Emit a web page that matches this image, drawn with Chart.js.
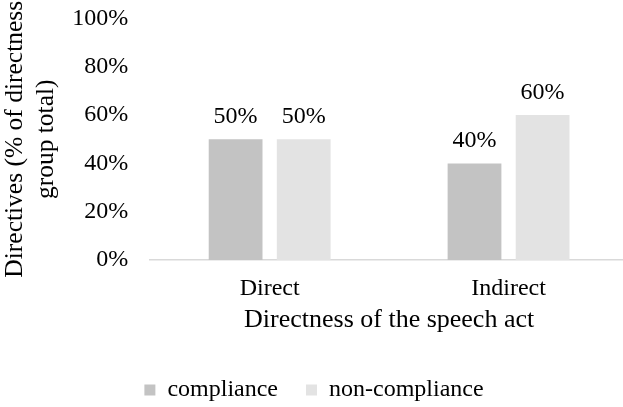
<!DOCTYPE html>
<html lang="en">
<head>
    <meta charset="UTF-8">
    <title>Directness of the speech act</title>
    <script src="https://cdn.jsdelivr.net/npm/chart.js"></script>
    <style>
        html, body { margin: 0; padding: 0; overflow: hidden; background: #fff; }
        #wrap { width: 628px; height: 407px; }
    </style>
</head>
<body>
    <div id="wrap"><canvas id="directChart"></canvas></div>

    <script>
        // data
        var categories = ['Direct', 'Indirect'];
        var compliance = [50, 40];
        var nonCompliance = [50, 60];
        var yTicks = [0, 20, 40, 60, 80, 100];

        var serif = "'Liberation Serif', 'Times New Roman', serif";

        // draws the % value above every bar
        var valueLabels = {
            id: 'valueLabels',
            afterDatasetsDraw: function(chart) {
                var ctx = chart.ctx;
                ctx.save();
                ctx.font = '24px ' + serif;
                ctx.fillStyle = '#000';
                ctx.textAlign = 'center';
                ctx.textBaseline = 'alphabetic';
                chart.data.datasets.forEach(function(ds, i) {
                    chart.getDatasetMeta(i).data.forEach(function(bar, j) {
                        ctx.fillText(ds.data[j] + '%', bar.x, bar.y - 16);
                    });
                });
                ctx.restore();
            }
        };

        new Chart(document.getElementById('directChart'), {
            type: 'bar',
            data: {
                labels: categories,
                datasets: [{
                    label: 'compliance',
                    data: compliance,
                    backgroundColor: '#c3c3c3',
                    categoryPercentage: 0.57,
                    barPercentage: 0.79
                }, {
                    label: 'non-compliance',
                    data: nonCompliance,
                    backgroundColor: '#e3e3e3',
                    categoryPercentage: 0.57,
                    barPercentage: 0.79
                }]
            },
            options: {
                responsive: true,
                maintainAspectRatio: false,
                animation: false,
                layout: { padding: { top: 0, right: 0, bottom: -5, left: 0 } },
                plugins: {
                    tooltip: { enabled: false },
                    legend: {
                        position: 'bottom',
                        labels: {
                            color: '#000',
                            font: { family: serif, size: 24 },
                            boxWidth: 11,
                            boxHeight: 11,
                            padding: 28
                        }
                    }
                },
                scales: {
                    x: {
                        grid: { display: false, drawTicks: false },
                        border: { color: '#d9d9d9', width: 1.5 },
                        ticks: { color: '#000', font: { family: serif, size: 24 }, padding: 14 },
                        title: {
                            display: true,
                            text: 'Directness of the speech act',
                            color: '#000',
                            font: { family: serif, size: 26 },
                            padding: { top: -12, bottom: 14 }
                        }
                    },
                    y: {
                        min: 0,
                        max: 100,
                        afterBuildTicks: function(axis) {
                            axis.ticks = yTicks.map(function(v) { return { value: v }; });
                        },
                        // tick padding would otherwise push the plot down from the top
                        afterFit: function(axis) {
                            axis.paddingTop = 18.5;
                        },
                        grid: { display: false, drawTicks: false },
                        border: { display: false },
                        ticks: {
                            color: '#000',
                            font: { family: serif, size: 24 },
                            padding: 22,
                            callback: function(v) { return v + '%'; }
                        },
                        title: {
                            display: true,
                            text: ['Directives (% of directness', 'group total)'],
                            color: '#000',
                            font: { family: serif, size: 25.5, lineHeight: 1.22 },
                            padding: { top: 0, bottom: -12 }
                        }
                    }
                }
            },
            plugins: [valueLabels]
        });
    </script>
</body>
</html>
